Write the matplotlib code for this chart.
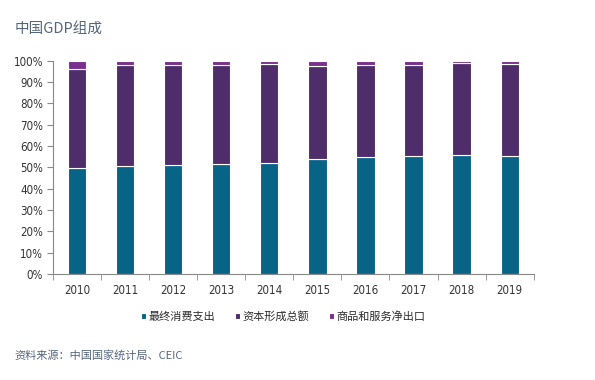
import matplotlib
matplotlib.use("Agg")
import matplotlib.pyplot as plt
import numpy as np

years = ["2010", "2011", "2012", "2013", "2014", "2015", "2016", "2017", "2018", "2019"]
consumption = [49.5, 50.5, 50.9, 51.7, 52.2, 53.9, 55.0, 55.2, 55.6, 55.5]
capital = [46.8, 47.3, 46.9, 46.1, 46.1, 43.6, 42.8, 42.9, 43.5, 43.1]
net_export = [100 - c - k for c, k in zip(consumption, capital)]

series_names = ["最终消费支出", "资本形成总额", "商品和服务净出口"]
colors = ["#086487", "#4f2d6b", "#7a2e8e"]

cjk = ["Noto Sans CJK SC", "DejaVu Sans"]

fig = plt.figure(figsize=(5.95, 3.8), dpi=100)
ax = fig.add_axes([0.089, 0.279, 0.808, 0.561])

x = np.arange(len(years))
w = 0.38
bottom = np.zeros(len(years))
for vals, name, col in zip([consumption, capital, net_export], series_names, colors):
    ax.bar(x, vals, w, bottom=bottom, color=col, edgecolor="white", linewidth=0.8,
           label=name)
    bottom += np.array(vals)

ax.set_xlim(-0.5, len(years) - 0.5)
ax.set_ylim(0, 100)
ax.set_yticks(np.arange(0, 101, 10))
ax.set_yticklabels([f"{v}%" for v in range(0, 101, 10)], family="DejaVu Sans",
                   stretch="condensed", fontsize=8.3, color="#333333")
ax.set_xticks(x)
ax.set_xticklabels(years, family="DejaVu Sans", stretch="condensed", fontsize=8.3,
                   color="#333333")
ax.tick_params(axis="x", length=0, pad=7)
ax.set_xticks(np.arange(-0.5, len(years) + 0.5, 1), minor=True)
ax.tick_params(axis="x", which="minor", length=4, color="#888888")
ax.tick_params(axis="y", length=4, color="#888888", pad=3)
for s in ["top", "right"]:
    ax.spines[s].set_visible(False)
for s in ["left", "bottom"]:
    ax.spines[s].set_color("#888888")
    ax.spines[s].set_linewidth(0.8)

leg = fig.legend(loc="center", bbox_to_anchor=(0.476, 0.168), ncol=3, frameon=False,
                 prop={"family": cjk, "size": 8, "weight": 500},
                 handlelength=0.45, handleheight=0.45,
                 handletextpad=0.3, columnspacing=1.7)
for t in leg.get_texts():
    t.set_color("#2b2b2b")

fig.text(0.025, 0.925, "中国GDP组成", family=cjk, fontsize=10.5, weight=500,
         color="#55667c", va="center")
fig.text(0.025, 0.066, "资料来源：中国国家统计局、CEIC", family=cjk, fontsize=8,
         weight=500, color="#55667c", va="center")

fig.savefig("out.png", dpi=100)
